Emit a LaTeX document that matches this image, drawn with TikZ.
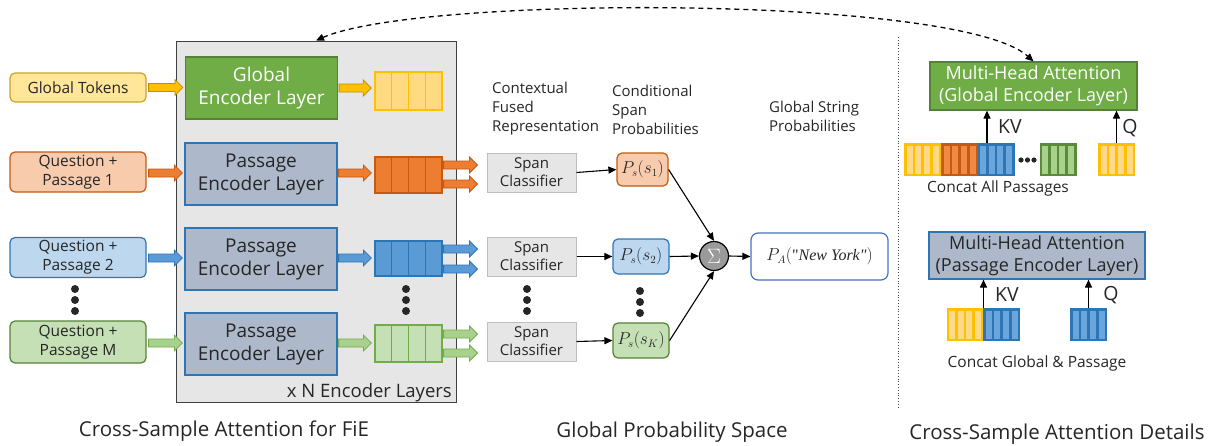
\documentclass[tikz,border=0pt]{standalone}
\usepackage{fontspec}
\setmainfont{Open Sans}
\newfontfamily\qfont{Liberation Serif}
\usetikzlibrary{calc,arrows.meta}
\newcommand\fsz[2]{\fontsize{#1pt}{#2pt}\selectfont}
\definecolor{txt}{HTML}{262626}
\definecolor{encfill}{HTML}{E7E6E6}
\definecolor{encdraw}{HTML}{404040}
\definecolor{ybox}{HTML}{FFE699}
\definecolor{yboxd}{HTML}{C9A227}
\definecolor{yvec}{HTML}{FFDA80}
\definecolor{yd}{HTML}{FFC000}
\definecolor{yarrd}{HTML}{BF9000}
\definecolor{obox}{HTML}{F8CBAD}
\definecolor{od}{HTML}{C55A11}
\definecolor{ovec}{HTML}{ED7D31}
\definecolor{bbox}{HTML}{BDD7EE}
\definecolor{bd}{HTML}{2E75B6}
\definecolor{bvec}{HTML}{5B9BD5}
\definecolor{gbox}{HTML}{C5E0B4}
\definecolor{gd}{HTML}{548235}
\definecolor{gmid}{HTML}{70AD47}
\definecolor{garr}{HTML}{A9D18E}
\definecolor{pfill}{HTML}{ADB9CA}
\definecolor{scfill}{HTML}{E7E6E6}
\definecolor{scd}{HTML}{BFBFBF}
\definecolor{sigfill}{HTML}{9A9A9A}
\definecolor{pad}{HTML}{4472C4}
\definecolor{ystripe}{HTML}{FFD98A}
\definecolor{ostripe}{HTML}{F08A45}
\definecolor{bstripe}{HTML}{6AA6DC}
\definecolor{gstripe}{HTML}{A9D18E}
\newcommand\barrow[3]{\path[#1] let \p1=#2, \p2=#3 in
  (\x1,\y1+4pt) -- (\x2-8pt,\y1+4pt) -- (\x2-8pt,\y1+8pt) -- (\x2,\y1)
  -- (\x2-8pt,\y1-8pt) -- (\x2-8pt,\y1-4pt) -- (\x1,\y1-4pt) -- cycle;}
\newcommand\vecbox[7]{\node[draw=#6, fill=#5, line width=#7, minimum width=#3,
  minimum height=#4, inner sep=0] (#1) at (#2) {};
  \foreach \i in {1,2,3} \draw[#6, line width=#7]
    ($(#1.north west)!\i/4!(#1.north east)$) -- ($(#1.south west)!\i/4!(#1.south east)$);}
\newcommand\stripebox[4]{\node[fill=#4, minimum width=37, minimum height=33,
  inner sep=0, outer sep=0] (#1) at (#2) {};
  \foreach \i in {0,1,2,3} \fill[#3] ($(#1.north west)+(2.5+\i*8.7,2.5)$) rectangle ++(6,28);}
\begin{document}
\begin{tikzpicture}[x=1pt,y=-1pt,
  every node/.style={text=txt},
  inbox/.style={draw, rounded corners=5pt, line width=1.2pt, minimum width=136,
    minimum height=40, align=center, inner sep=0, font=\fsz{15.5}{19}},
  encl/.style={draw, line width=1.2pt, minimum width=152, minimum height=62,
    align=center, inner sep=0, font=\fsz{19}{23}},
  scbox/.style={draw=scd, fill=scfill, line width=1pt, minimum width=89,
    minimum height=39, align=center, inner sep=0, font=\fsz{15}{18}},
  pbox/.style={draw, rounded corners=5pt, line width=1.2pt, minimum width=56,
    minimum height=35, inner sep=0, font=\fsz{16}{18}},
  head/.style={anchor=west, align=left, inner sep=0, font=\fsz{15}{19}},
  arrY/.style={fill=yd, draw=yarrd, line width=0.8pt},
  arrO/.style={fill=ovec, draw=od, line width=0.8pt},
  arrB/.style={fill=bvec, draw=bd, line width=0.8pt},
  arrG/.style={fill=garr, draw=gmid, line width=0.8pt},
  conn/.style={-{Triangle[length=8pt,width=7pt]}, line width=1.1pt, black},
  bigdot/.style={circle, fill=txt, inner sep=0, minimum size=8},
  title/.style={anchor=base, inner sep=0, font=\fsz{20.5}{24}},
  mha/.style={draw, line width=1.2pt, align=center, inner sep=0, font=\fsz{18}{22}}
]
\useasboundingbox (0,0) rectangle (1219,445);

% encoder block
\node[draw=encdraw, fill=encfill, line width=1pt, minimum width=280,
  minimum height=361, inner sep=0] (enc) at (316,221.5) {};

% inputs
\node[inbox, fill=ybox, draw=yboxd, minimum height=29] (gt) at (78,87.5) {Global Tokens};
\node[inbox, fill=obox, draw=od] (q1) at (78,172) {Question +\\Passage 1};
\node[inbox, fill=bbox, draw=bd] (q2) at (78,257.5) {Question +\\Passage 2};
\node[inbox, fill=gbox, draw=gd, minimum height=42] (qm) at (78,342) {Question +\\Passage M};

% encoder layers
\node[encl, fill=gmid, draw=gd, text=white] (gel) at (261.5,88) {Global\\Encoder Layer};
\node[encl, fill=pfill, draw=bd] (pel1) at (261,174) {Passage\\Encoder Layer};
\node[encl, fill=pfill, draw=bd] (pel2) at (261,259) {Passage\\Encoder Layer};
\node[encl, fill=pfill, draw=bd] (pel3) at (261,344) {Passage\\Encoder Layer};

% vectors
\vecbox{vy}{408.5,91}{67}{38}{yvec}{yd}{1.5pt}
\vecbox{v1}{408.5,175}{67}{36}{ovec}{od}{1.2pt}
\vecbox{v2}{408.5,258.5}{67}{35}{bvec}{bd}{1.2pt}
\vecbox{v3}{408.5,343.5}{67}{37}{gbox}{gmid}{1.2pt}

\node[anchor=base east, inner sep=0, font=\fsz{18.5}{20}] (nl) at (452,397) {x N Encoder Layers};

% dots
\foreach \yy in {289,300,311} {
  \node[bigdot] at (75,\yy) {};
  \node[bigdot] at (406,\yy) {};
  \node[bigdot] at (527,\yy) {};
}
\foreach \yy in {291,302,313} \node[bigdot] at (640,\yy) {};

% span classifiers and probabilities
\node[scbox] (sc1) at (531.5,172.5) {Span\\Classifier};
\node[scbox] (sc2) at (531.5,256.5) {Span\\Classifier};
\node[scbox] (sc3) at (531.5,341.5) {Span\\Classifier};
\node[pbox, fill=obox, draw=od, minimum width=51, minimum height=33] (p1) at (642.5,169.5) {$P_s(s_1)$};
\node[pbox, fill=bbox, draw=bd] (p2) at (641,256.5) {$P_s(s_2)$};
\node[pbox, fill=gbox, draw=gd] (pk) at (641,340.5) {$P_s(s_K)$};
\node[circle, draw=black, fill=sigfill, line width=1.2pt, minimum size=29, inner sep=0,
  text=white, font=\fsz{20}{22}] (sig) at (714,256) {$\Sigma$};
\node[draw=pad, fill=white, rounded corners=7pt, line width=1.2pt, minimum width=137,
  minimum height=47, inner sep=0, font=\fsz{16}{18}] (pa) at (819.5,256.5)
  {$P_A(${\qfont"\itshape New York"}$)$};

% headings
\node[head] (h1) at (492,109) {Contextual\\Fused\\Representation};
\node[head] (h2) at (612,110) {Conditional\\Span\\Probabilities};
\node[head] (h3) at (769,116) {Global String\\Probabilities};

% block arrows
\barrow{arrY}{($(gt.east)+(2,0)$)}{($(gel.west)+(-2,0)$)}
\barrow{arrY}{($(gel.east)+(1,0)$)}{($(vy.west)+(-3,0)$)}
\barrow{arrO}{($(q1.east)+(2,1)$)}{($(pel1.west)+(-2,0)$)}
\barrow{arrO}{($(pel1.east)+(1,-1)$)}{($(v1.west)+(-3,0)$)}
\barrow{arrB}{($(q2.east)+(2,0.5)$)}{($(pel2.west)+(-2,0)$)}
\barrow{arrB}{($(pel2.east)+(1,-1)$)}{($(v2.west)+(-3,0)$)}
\barrow{arrG}{($(qm.east)+(2,1)$)}{($(pel3.west)+(-2,0)$)}
\barrow{arrG}{($(pel3.east)+(1,-1)$)}{($(v3.west)+(-3,0)$)}
\barrow{arrO}{($(v1.east)+(1,-10)$)}{($(sc1.west)+(-9,0)$)}
\barrow{arrO}{($(v1.east)+(1,9)$)}{($(sc1.west)+(-9,0)$)}
\barrow{arrB}{($(v2.east)+(1,-9.5)$)}{($(sc2.west)+(-9,0)$)}
\barrow{arrB}{($(v2.east)+(1,10.5)$)}{($(sc2.west)+(-9,0)$)}
\barrow{arrG}{($(v3.east)+(1,-9.5)$)}{($(sc3.west)+(-9,0)$)}
\barrow{arrG}{($(v3.east)+(1,9.5)$)}{($(sc3.west)+(-9,0)$)}

% line connectors
\draw[conn] (sc1.east) -- (p1.west);
\draw[conn] (sc2.east) -- (p2.west);
\draw[conn] (sc3.east) -- (pk.west);
\draw[conn] (p1.east) -- (sig.north);
\draw[conn] (p2.east) -- (sig.west);
\draw[conn] (pk.east) -- (sig.south);
\draw[conn] (sig.east) -- (pa.west);

% separator
\draw[dotted, line width=0.8pt, black!70] (898,37) -- (898,408);

% right panel: global MHA
\node[mha, fill=gmid, draw=gd, text=white, minimum width=207, minimum height=48] (mhg) at (1033.5,86)
  {Multi-Head Attention\\(Global Encoder Layer)};
\stripebox{cy}{922.5,159.5}{ystripe}{yd}
\stripebox{co}{959.5,159.5}{ostripe}{od}
\stripebox{cb}{996,159.5}{bstripe}{bd}
\stripebox{cg}{1058,159.5}{gstripe}{gd!80!gmid}
\stripebox{qy}{1116.5,159.5}{ystripe}{yd}
\foreach \xx in {1021,1027.5,1034} \fill[txt] (\xx,160) circle (2.6);
\coordinate (kv1) at (987,143);
\draw[conn] (kv1) -- (kv1 |- mhg.south);
\draw[conn] (qy.north) -- (qy.north |- mhg.south);
\node[inner sep=0, font=\fsz{19.5}{22}] (kvl1) at (1010,127) {KV};
\node[inner sep=0, font=\fsz{19.5}{22}] (ql1) at (1130,128) {Q};
\node[inner sep=0, font=\fsz{15.5}{18}] (cap1) at (998,188) {Concat All Passages};

% right panel: passage MHA
\node[mha, fill=pfill, draw=bd, minimum width=216, minimum height=47] (mhp) at (1037,255.5)
  {Multi-Head Attention\\(Passage Encoder Layer)};
\stripebox{ly}{965,324.5}{ystripe}{yd}
\stripebox{lb}{1001.5,324.5}{bstripe}{bd}
\stripebox{lq}{1088.5,324.5}{bstripe}{bd}
\draw[conn] (ly.north east) -- (ly.north east |- mhp.south);
\draw[conn] (lq.north) -- (lq.north |- mhp.south);
\node[inner sep=0, font=\fsz{19.5}{22}] (kvl2) at (1007,295) {KV};
\node[inner sep=0, font=\fsz{19.5}{22}] (ql2) at (1111,295) {Q};
\node[inner sep=0, font=\fsz{15.5}{18}] (cap2) at (1037,363) {Concat Global \& Passage};

% dashed link
\draw[dash pattern=on 5pt off 4pt, line width=1.3pt, {Triangle[length=8pt,width=7pt]}-{Triangle[length=8pt,width=7pt]}]
  (enc.north) .. controls (420,-5) and (960,-5) .. (mhg.north);

% titles
\node[title] (t1) at (224,436) {Cross-Sample Attention for FiE};
\node[title] (t2) at (672,437) {Global Probability Space};
\node[title] (t3) at (1057,439) {Cross-Sample Attention Details};
\end{tikzpicture}
\end{document}
